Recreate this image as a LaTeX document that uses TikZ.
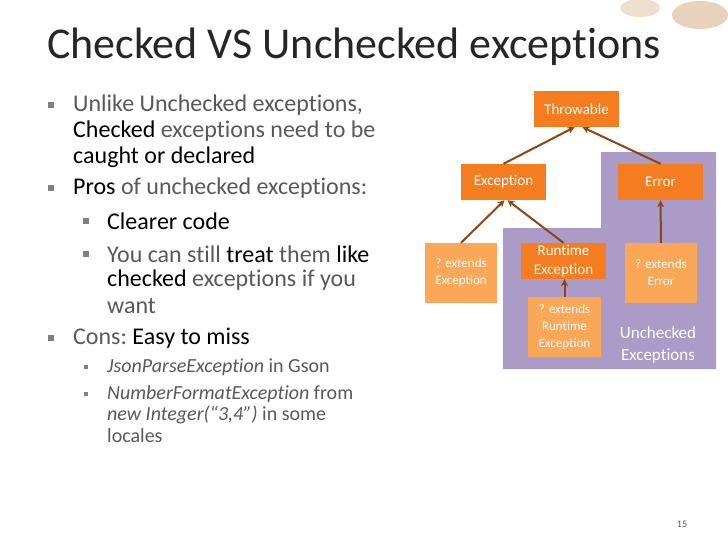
\documentclass[tikz,border=0pt]{standalone}
\usepackage{fontspec}
\setmainfont{Carlito}[Ligatures=NoCommon]
\usetikzlibrary{arrows.meta}
\definecolor{dor}{RGB}{245,125,32}
\definecolor{lor}{RGB}{250,167,88}
\definecolor{pur}{RGB}{170,156,198}
\definecolor{arr}{RGB}{140,70,20}
\definecolor{tg}{RGB}{89,89,89}
\newcommand{\bul}[1]{\textcolor{gray}{\rule{#1}{#1}}}
\tikzset{
 dbox/.style={fill=dor,text=white,font=\fontsize{15}{19}\selectfont,align=center,inner sep=0pt},
 lbox/.style={fill=lor,text=white,font=\fontsize{13}{17}\selectfont,align=center,inner sep=0pt},
 con/.style={draw=arr,line width=2pt,-{Stealth[length=7pt,width=7pt]}},
 l1/.style={anchor=west,text=tg,font=\fontsize{24}{28}\selectfont,inner sep=0pt},
 l2/.style={anchor=west,text=tg,font=\fontsize{24}{28}\selectfont,inner sep=0pt},
 l3/.style={anchor=west,text=tg,font=\fontsize{20}{24}\selectfont,inner sep=0pt},
}
\begin{document}
\begin{tikzpicture}[x=1pt,y=-1pt]
\useasboundingbox (0,0) rectangle (728,546);
\fill[white] (0,0) rectangle (728,546);
% coffee bean hints
\fill[brown!35!white] (700,15) ellipse (28 and 14);
\fill[brown!25!white] (640,8) ellipse (20 and 9);
\node[anchor=west,inner sep=0pt,font=\fontsize{44}{48}\selectfont,text=black!85] (title) at (47,47) {Checked VS Unchecked exceptions};
% bullets
\node[l1] (a1) at (73,105) {Unlike Unchecked exceptions,};
\node[l1] (a2) at (73,131) {\textcolor{black}{Checked} exceptions need to be};
\node[l1] (a3) at (73,157) {\textcolor{black}{caught or declared}};
\node[l1] (b1) at (73,188) {\textcolor{black}{Pros} of unchecked exceptions:};
\node[l2] (c1) at (107,221) {\textcolor{black}{Clearer code}};
\node[l2] (d1) at (107,254) {You can still \textcolor{black}{treat} them \textcolor{black}{like}};
\node[l2] (d2) at (107,280) {\textcolor{black}{checked} exceptions if you};
\node[l2] (d3) at (107,306) {want};
\node[l1] (e1) at (73,338) {Cons:~\textcolor{black}{Easy to miss}};
\node[l3] (f1) at (107,367) {\textit{JsonParseException} in Gson};
\node[l3] (g1) at (107,394) {\textit{NumberFormatException} from};
\node[l3] (g2) at (107,415) {\textit{new Integer(“3,4”)} in some};
\node[l3] (g3) at (107,436) {locales};
\foreach \yy in {105,188,338} \node[inner sep=0pt] at (51,\yy) {\bul{6.5pt}};
\foreach \yy in {221,254} \node[inner sep=0pt] at (86,\yy) {\bul{6.5pt}};
\foreach \yy in {367,394} \node[inner sep=0pt] at (86,\yy) {\bul{4.5pt}};
% purple region
\fill[pur] (601,152) -- (716,152) -- (716,369) -- (503,369) -- (503,228) -- (601,228) -- cycle;
\node[text=white,font=\fontsize{17}{22}\selectfont,align=center] (unc) at (658,345) {Unchecked\\Exceptions};
% boxes
\node[dbox,minimum width=85pt,minimum height=36pt] (thr) at (576.5,109) {Throwable};
\node[dbox,minimum width=85pt,minimum height=36pt] (exc) at (503.5,182) {Exception};
\node[dbox,minimum width=85pt,minimum height=36pt] (err) at (660.5,182) {Error};
\node[lbox,minimum width=72pt,minimum height=60pt] (xe) at (461,273) {? extends\\Exception};
\node[dbox,minimum width=85pt,minimum height=36pt] (rt) at (563.5,261) {Runtime\\Exception};
\node[lbox,minimum width=73pt,minimum height=60pt] (xr) at (564.5,327) {? extends\\Runtime\\Exception};
\node[lbox,minimum width=72pt,minimum height=60pt] (xer) at (661,273) {? extends\\Error};
% connectors
\draw[con] (exc.north) -- ([xshift=-2pt]thr.south);
\draw[con] (err.north) -- ([xshift=6pt]thr.south);
\draw[con] (xe.north) -- ([xshift=1pt]exc.south);
\draw[con] (rt.north) -- ([xshift=4pt]exc.south);
\draw[con] (xr.north) -- (xr.north|-rt.south);
\draw[con] (xer.north) -- (err.south);
\node[text=tg,font=\fontsize{10}{11}\selectfont] (pg) at (682,524) {15};
\end{tikzpicture}
\end{document}
